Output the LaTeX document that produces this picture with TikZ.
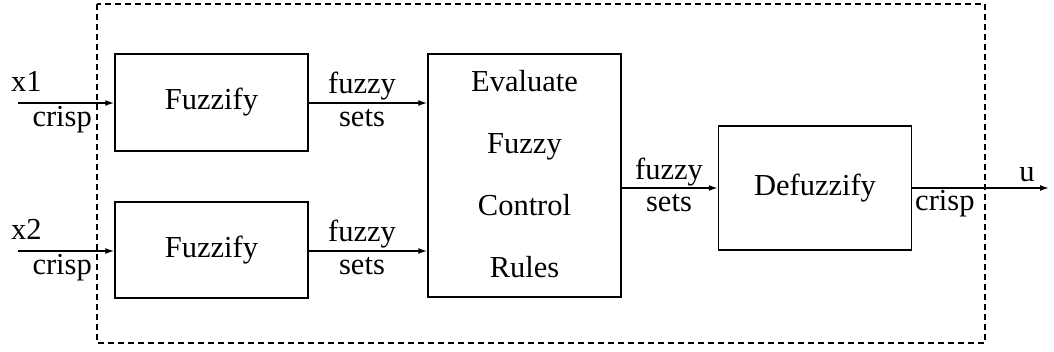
\documentclass[tikz,border=0pt]{standalone}
\usepackage{fontspec}
\setmainfont{Liberation Serif}
\usetikzlibrary{arrows.meta}
\begin{document}
\begin{tikzpicture}[x=1pt,y=-1pt,
  font=\fontsize{30.5}{36}\selectfont,
  blk/.style={draw, line width=1.5pt, minimum width=193pt, inner sep=0pt},
  flow/.style={line width=1.5pt, -{Latex[length=9pt,width=6pt]}},
  frame/.style={line width=1.7pt, dash pattern=on 6pt off 4pt},
  lbl/.style={inner sep=0pt}]
\useasboundingbox (0,0) rectangle (1054,352);

% dashed outline of the controller
\draw[frame] (97,4) rectangle (985,343);

% processing blocks
\node[blk, minimum height=97pt]  (f1) at (211.5,102.5) {Fuzzify};
\node[blk, minimum height=96pt]  (f2) at (211.5,250)   {Fuzzify};
\node[blk, minimum height=243pt] (ev) at (524.5,175.5) {};
\node[blk, minimum height=124pt] (df) at (815,188)     {Defuzzify};

\node[lbl, anchor=base] (ev1) at (524.5,92)  {Evaluate};
\node[lbl, anchor=base] (ev2) at (524.5,154) {Fuzzy};
\node[lbl, anchor=base] (ev3) at (524.5,216) {Control};
\node[lbl, anchor=base] (ev4) at (524.5,278) {Rules};

% free ends of the input and output lines
\coordinate (in1) at (18,103);
\coordinate (in2) at (18,251);
\coordinate (out) at (1049,188);

% connectors
\draw[flow] (in1) -- (in1 -| f1.west);
\draw[flow] (in2) -- (in2 -| f2.west);
\draw[flow] (in1 -| f1.east) -- (in1 -| ev.west);
\draw[flow] (in2 -| f2.east) -- (in2 -| ev.west);
\draw[flow] (df.west -| ev.east) -- (df.west);
\draw[flow] (df.east) -- (out);

% signal labels
\node[lbl, anchor=base west] (x1) at (11,92) {x1};
\node[lbl, anchor=base east] (c1) at (92,127) {crisp};
\node[lbl, anchor=base west] (x2) at (11,240) {x2};
\node[lbl, anchor=base east] (c2) at (92,275) {crisp};

\node[lbl, anchor=base] (fz1) at (362,94)  {fuzzy};
\node[lbl, anchor=base] (st1) at (362,127) {sets};
\node[lbl, anchor=base] (fz2) at (362,242) {fuzzy};
\node[lbl, anchor=base] (st2) at (362,275) {sets};

\node[lbl, anchor=base] (fz3) at (669,180) {fuzzy};
\node[lbl, anchor=base] (st3) at (669,212) {sets};

\node[lbl, anchor=base west] (c3) at (915,211) {crisp};
\node[lbl, anchor=base] (u) at (1027,182) {u};
\end{tikzpicture}
\end{document}
